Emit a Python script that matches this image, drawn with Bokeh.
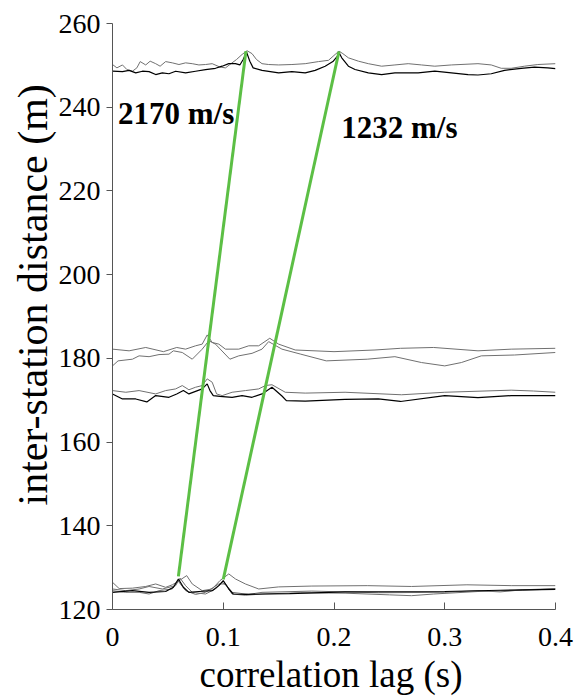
from bokeh.plotting import figure
from bokeh.models import Range1d, FixedTicker, Title
from bokeh.core.properties import value
from bokeh.embed import file_html
from bokeh.resources import INLINE

# correlation traces, grouped by inter-station distance
top_black_lag = [0, 0.009, 0.015, 0.021, 0.027, 0.033, 0.039, 0.045, 0.051, 0.057, 0.066, 0.075,
                 0.084, 0.093, 0.099, 0.105, 0.111, 0.115, 0.118, 0.121, 0.124, 0.127, 0.135, 0.150,
                 0.162, 0.174, 0.183, 0.192, 0.199, 0.205, 0.207, 0.213, 0.219, 0.231, 0.243, 0.255,
                 0.276, 0.291, 0.306, 0.321, 0.330, 0.342, 0.354, 0.369, 0.381, 0.393, 0.400]
top_black_dist = [248.6, 248.5, 248.8, 248.2, 248.6, 248.5, 247.8, 248.2, 248.0, 248.6, 248.2, 248.6,
                  249.0, 249.3, 249.8, 250.4, 250.4, 250.1, 251.4, 253.2, 251.0, 249.4, 248.8, 248.2,
                  248.5, 248.2, 248.8, 249.8, 250.9, 252.8, 251.8, 249.8, 249.0, 248.2, 247.8, 248.2,
                  248.2, 248.6, 248.2, 247.8, 247.7, 248.0, 248.8, 249.3, 249.6, 249.4, 249.2]

top_gray_lag = [0, 0.004, 0.009, 0.013, 0.018, 0.022, 0.025, 0.030, 0.034, 0.039, 0.043, 0.048,
                0.054, 0.060, 0.066, 0.072, 0.078, 0.084, 0.090, 0.097, 0.102, 0.106, 0.112, 0.117,
                0.1215, 0.126, 0.130, 0.135, 0.141, 0.150, 0.162, 0.174, 0.186, 0.195, 0.201, 0.2045,
                0.208, 0.213, 0.222, 0.231, 0.243, 0.255, 0.267, 0.279, 0.291, 0.306, 0.330, 0.342,
                0.351, 0.360, 0.372, 0.384, 0.400]
top_gray_dist = [250.2, 249.4, 250.1, 249.0, 248.6, 249.4, 250.9, 250.1, 251.0, 250.4, 249.8, 250.9,
                 250.6, 250.2, 250.6, 250.4, 250.1, 250.2, 250.4, 249.6, 249.4, 250.2, 251.4, 252.6,
                 253.5, 252.8, 251.4, 250.4, 250.2, 250.1, 250.2, 250.4, 250.9, 251.2, 252.6, 253.4,
                 252.8, 251.8, 251.0, 250.4, 249.8, 250.1, 250.4, 250.1, 249.8, 250.1, 250.4, 250.1,
                 249.3, 249.3, 249.8, 250.2, 250.4]

mid_up_lag = [0, 0.015, 0.030, 0.046, 0.058, 0.066, 0.075, 0.081, 0.0855, 0.090, 0.096, 0.102,
              0.114, 0.123, 0.132, 0.142, 0.150, 0.165, 0.200, 0.237, 0.260, 0.290, 0.330, 0.360, 0.400]
mid_up_dist = [182.2, 181.8, 182.6, 181.6, 182.6, 182.2, 183.0, 183.4, 185.6, 183.8, 183.4, 182.2,
               182.2, 183.0, 183.0, 184.8, 183.4, 182.0, 181.6, 182.0, 182.4, 182.6, 181.8, 182.2, 182.4]

mid_low_lag = [0, 0.005, 0.018, 0.024, 0.033, 0.042, 0.051, 0.055, 0.063, 0.072, 0.081, 0.087,
               0.093, 0.106, 0.114, 0.126, 0.135, 0.141, 0.153, 0.170, 0.193, 0.230, 0.255, 0.279,
               0.300, 0.315, 0.333, 0.363, 0.400]
mid_low_dist = [178.2, 179.4, 179.8, 180.6, 180.4, 180.9, 181.0, 181.8, 181.4, 179.8, 182.2, 184.2,
                183.4, 179.8, 180.6, 181.2, 182.2, 184.0, 182.2, 181.0, 179.4, 179.8, 180.4, 179.0,
                178.2, 179.0, 180.6, 180.8, 181.4]

low_gray_lag = [0, 0.012, 0.024, 0.039, 0.048, 0.057, 0.063, 0.069, 0.075, 0.081, 0.0855, 0.090,
                0.094, 0.099, 0.108, 0.120, 0.132, 0.138, 0.144, 0.156, 0.174, 0.210, 0.261, 0.300,
                0.360, 0.380, 0.400]
low_gray_dist = [172.3, 171.9, 172.3, 171.5, 172.3, 172.7, 173.5, 172.5, 173.1, 173.5, 175.1, 174.3,
                 171.5, 171.1, 171.9, 172.3, 172.7, 173.5, 173.7, 171.9, 171.7, 171.9, 171.3, 171.9,
                 172.4, 172.2, 171.9]

low_black_lag = [0, 0.009, 0.021, 0.031, 0.039, 0.051, 0.058, 0.064, 0.069, 0.081, 0.0855, 0.088,
                 0.091, 0.097, 0.108, 0.117, 0.126, 0.135, 0.144, 0.153, 0.157, 0.174, 0.210, 0.240,
                 0.260, 0.300, 0.330, 0.360, 0.400]
low_black_dist = [171.5, 170.3, 170.3, 169.6, 171.1, 170.7, 171.5, 172.3, 171.5, 172.7, 173.9, 172.3,
                  171.1, 170.9, 170.7, 171.1, 170.7, 171.5, 173.1, 171.0, 169.9, 169.8, 170.2, 170.3,
                  169.7, 171.1, 170.6, 171.1, 171.1]

base_black_lag = [0, 0.018, 0.033, 0.048, 0.055, 0.0595, 0.064, 0.069, 0.078, 0.090, 0.096, 0.100,
                  0.105, 0.109, 0.120, 0.138, 0.160, 0.210, 0.300, 0.350, 0.400]
base_black_dist = [124.1, 124.5, 124.1, 124.3, 125.3, 127.3, 125.3, 124.1, 124.3, 124.5, 125.7, 126.9,
                   124.9, 123.7, 123.6, 123.7, 123.8, 124.2, 124.3, 124.6, 124.8]

base_gray1_lag = [0, 0.006, 0.018, 0.030, 0.039, 0.048, 0.054, 0.058, 0.067, 0.072, 0.081, 0.090,
                  0.097, 0.105, 0.111, 0.120, 0.132, 0.150, 0.180, 0.230, 0.270, 0.320, 0.360, 0.400]
base_gray1_dist = [126.5, 125.0, 125.1, 125.5, 126.1, 125.3, 125.9, 126.5, 128.1, 126.1, 124.5, 124.9,
                   126.9, 128.5, 127.3, 126.1, 124.9, 125.4, 125.6, 125.7, 125.5, 125.9, 125.7, 125.7]

base_gray2_lag = [0, 0.012, 0.024, 0.033, 0.045, 0.057, 0.061, 0.066, 0.072, 0.084, 0.093, 0.099,
                  0.103, 0.108, 0.120, 0.135, 0.170, 0.210, 0.250, 0.270, 0.290, 0.330, 0.370, 0.400]
base_gray2_dist = [124.9, 124.5, 124.9, 125.5, 124.9, 125.7, 127.5, 125.7, 124.1, 123.7, 124.9, 126.5,
                   125.7, 123.7, 123.4, 123.7, 124.0, 123.9, 123.5, 123.3, 123.7, 124.3, 124.6, 124.9]

base_gray3_lag = [0, 0.012, 0.024, 0.033, 0.042, 0.054, 0.059, 0.066, 0.075, 0.084, 0.096, 0.102,
                  0.108, 0.123, 0.135, 0.180, 0.240, 0.300, 0.330, 0.350, 0.370, 0.400]
base_gray3_dist = [124.5, 124.1, 124.1, 123.7, 124.5, 124.9, 126.9, 124.5, 123.6, 124.1, 126.1, 126.1,
                   124.1, 123.6, 124.1, 124.4, 124.0, 124.1, 124.5, 124.2, 124.7, 125.0]

# picked arrivals (moveout lines)
fast_lag = [0.0595, 0.1205]
fast_dist = [127.9, 253.4]
slow_lag = [0.100, 0.2045]
slow_dist = [127.2, 253.3]
speed_labels = ["2170 m/s", "1232 m/s"]
speed_label_lag = [0.0050, 0.2065]
speed_label_dist = [238.4, 235.2]

x_ticks = [0, 0.1, 0.2, 0.3, 0.4]
x_tick_labels = ["0", "0.1", "0.2", "0.3", "0.4"]
y_ticks = [120, 140, 160, 180, 200, 220, 240, 260]
x_title = "correlation lag (s)"
y_title = "inter-station distance (m)"

SERIF = "Liberation Serif"

p = figure(width=579, height=700, x_range=Range1d(0, 0.4), y_range=Range1d(120, 260),
           output_backend="svg", toolbar_location=None,
           min_border_left=112, min_border_right=24, min_border_top=23, min_border_bottom=91)
p.xgrid.visible = False
p.ygrid.visible = False
p.outline_line_color = None
p.background_fill_color = "white"

gray = "#707070"
for xs, ys in [(top_gray_lag, top_gray_dist), (mid_up_lag, mid_up_dist), (mid_low_lag, mid_low_dist),
               (low_gray_lag, low_gray_dist), (base_gray1_lag, base_gray1_dist),
               (base_gray2_lag, base_gray2_dist), (base_gray3_lag, base_gray3_dist)]:
    p.line(xs, ys, line_color=gray, line_width=1)
for xs, ys in [(top_black_lag, top_black_dist), (low_black_lag, low_black_dist),
               (base_black_lag, base_black_dist)]:
    p.line(xs, ys, line_color="black", line_width=1.2)

p.line(fast_lag, fast_dist, line_color="#5cbf45", line_width=3)
p.line(slow_lag, slow_dist, line_color="#5cbf45", line_width=3)

p.text(speed_label_lag, speed_label_dist, text=speed_labels, text_font=value(SERIF),
       text_font_style="bold", text_font_size="31px", text_color="black",
       text_baseline="middle", text_align="left")

p.xaxis.ticker = FixedTicker(ticks=x_ticks)
p.xaxis.major_label_overrides = {t: lbl for t, lbl in zip(x_ticks, x_tick_labels)}
p.yaxis.ticker = FixedTicker(ticks=y_ticks)
p.xaxis.minor_tick_line_color = None
p.yaxis.minor_tick_line_color = None
p.xaxis.major_tick_in = 7
p.xaxis.major_tick_out = 0
p.yaxis.major_tick_in = 0
p.yaxis.major_tick_out = 6
p.xaxis.major_label_standoff = 18
p.yaxis.major_label_standoff = 6

for ax in (p.xaxis, p.yaxis):
    ax.axis_line_color = "#555555"
    ax.major_tick_line_color = "#555555"
    ax.major_label_text_font = SERIF
    ax.major_label_text_font_size = "28px"
    ax.major_label_text_color = "black"

# axis titles as side titles; offsets put them where the original has them
p.add_layout(Title(text=x_title, text_font=SERIF, text_font_size="37px", text_font_style="normal",
                   align="left", offset=87, standoff=7, text_color="black"), "below")
p.add_layout(Title(text=y_title, text_font=SERIF, text_font_size="42px", text_font_style="normal",
                   align="left", offset=104, standoff=0, text_color="black"), "left")

open("out.html", "w").write(file_html(p, INLINE))
